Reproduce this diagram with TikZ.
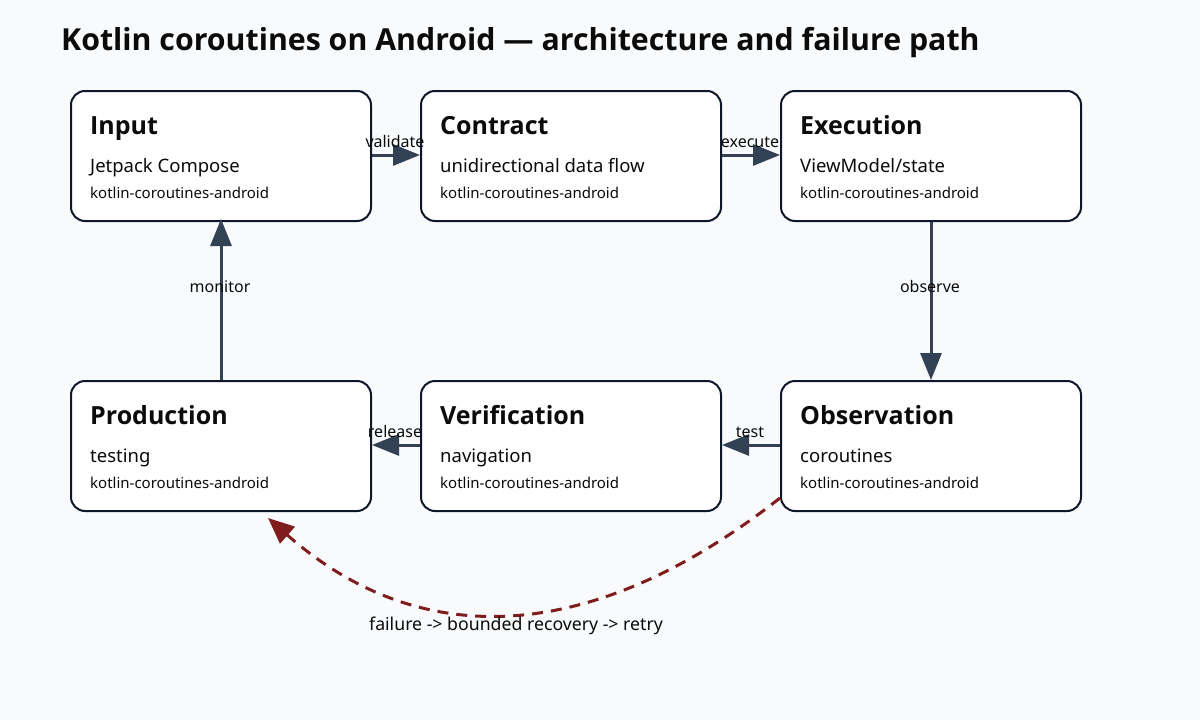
\documentclass[tikz,border=0pt]{standalone}
\usepackage{fontspec}
\setmainfont{Noto Sans}
\newfontfamily\headfont{Open Sans}
\usetikzlibrary{arrows.meta}
\definecolor{bg}{HTML}{F8FAFC}
\definecolor{edge}{HTML}{334155}
\definecolor{border}{HTML}{0F172A}
\definecolor{fail}{HTML}{7F1D1D}
\definecolor{ink}{HTML}{0B0B0B}
\tikzset{
  x=1pt, y=-1pt,
  stagebox/.style={draw=border, line width=2pt, fill=white, rounded corners=14pt, minimum width=300pt, minimum height=130pt, anchor=north west, inner sep=0pt},
  boxtitle/.style={anchor=base west, inner sep=0pt, font=\headfont\fontsize{25}{29}\selectfont\bfseries, text=ink},
  boxsub/.style={anchor=base west, inner sep=0pt, font=\fontsize{18.5}{22}\selectfont, text=ink},
  boxsmall/.style={anchor=base west, inner sep=0pt, font=\fontsize{15}{18}\selectfont, text=ink},
  flow/.style={draw=edge, line width=3pt, -{Triangle[length=27pt, width=21pt]}},
  lbl/.style={anchor=base, inner sep=0pt, font=\fontsize{16}{19}\selectfont, text=ink},
  failflow/.style={draw=fail, line width=3pt, dash pattern=on 11pt off 8pt, -{Triangle[length=26pt, width=22pt]}},
}
\begin{document}
\begin{tikzpicture}
\fill[bg] (0,0) rectangle (1200,720);
\useasboundingbox (0,0) rectangle (1200,720);

\node[anchor=base west, inner sep=0pt, font=\headfont\fontsize{30.3}{36}\selectfont\bfseries, text=ink] (title) at (61,50) {Kotlin coroutines on Android — architecture and failure path};

% boxes
\node[stagebox] (input) at (70,90) {};
\node[stagebox] (contract) at (420,90) {};
\node[stagebox] (execution) at (780,90) {};
\node[stagebox] (production) at (70,380) {};
\node[stagebox] (verification) at (420,380) {};
\node[stagebox] (observation) at (780,380) {};

% box texts
\node[boxtitle] (inputT) at (90,134) {Input};
\node[boxsub] (inputS) at (90,172) {Jetpack Compose};
\node[boxsmall] (inputK) at (90,198) {kotlin-coroutines-android};

\node[boxtitle] (contractT) at (440,134) {Contract};
\node[boxsub] (contractS) at (440,172) {unidirectional data flow};
\node[boxsmall] (contractK) at (440,198) {kotlin-coroutines-android};

\node[boxtitle] (executionT) at (800,134) {Execution};
\node[boxsub] (executionS) at (800,172) {ViewModel/state};
\node[boxsmall] (executionK) at (800,198) {kotlin-coroutines-android};

\node[boxtitle] (productionT) at (90,424) {Production};
\node[boxsub] (productionS) at (90,462) {testing};
\node[boxsmall] (productionK) at (90,488) {kotlin-coroutines-android};

\node[boxtitle] (verificationT) at (440,424) {Verification};
\node[boxsub] (verificationS) at (440,462) {navigation};
\node[boxsmall] (verificationK) at (440,488) {kotlin-coroutines-android};

\node[boxtitle] (observationT) at (800,424) {Observation};
\node[boxsub] (observationS) at (800,462) {coroutines};
\node[boxsmall] (observationK) at (800,488) {kotlin-coroutines-android};

% connectors
\draw[flow] (input.east |- 0,155) -- (contract.west |- 0,155);
\node[lbl] (lv) at (395,147) {validate};
\draw[flow] (contract.east |- 0,155) -- (execution.west |- 0,155);
\node[lbl] (le) at (750,147) {execute};
\draw[flow] (execution.south) -- (observation.north);
\node[lbl] (lo) at (930,292) {observe};
\draw[flow] (observation.west |- 0,445) -- (verification.east |- 0,445);
\node[lbl] (lt) at (750,437) {test};
\draw[flow] (verification.west |- 0,445) -- (production.east |- 0,445);
\node[lbl] (lr) at (395,437) {release};
\draw[flow] (production.north |- 0,380) -- (input.south |- 0,219);
\node[lbl] (lm) at (220,292) {monitor};

% failure path
\coordinate (fs) at (780,498);
\coordinate (fe) at (268,518);
\draw[failflow] (fs) .. controls (591,646) and (420,652) .. (fe);
\node[lbl, font=\fontsize{17.7}{21}\selectfont] (lf) at (516,630) {failure -> bounded recovery -> retry};
\end{tikzpicture}
\end{document}
